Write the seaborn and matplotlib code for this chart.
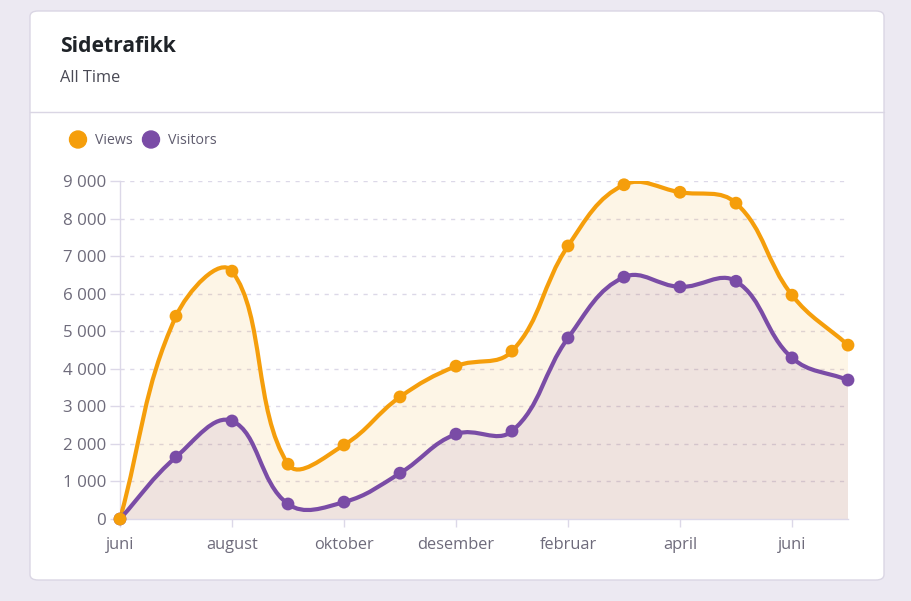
import numpy as np
import pandas as pd
import seaborn as sns
import matplotlib
matplotlib.use("Agg")
import matplotlib.pyplot as plt
from matplotlib.path import Path
from matplotlib.patches import PathPatch, FancyBboxPatch, Ellipse

months = ["juni", "juli", "august", "september", "oktober", "november", "desember",
          "januar", "februar", "mars", "april", "mai", "juni", "juli"]
views = [0, 5400, 6600, 1460, 1970, 3250, 4070, 4470, 7270, 8900, 8700, 8410, 5960, 4630]
visitors = [0, 1650, 2610, 400, 450, 1220, 2260, 2340, 4820, 6440, 6180, 6330, 4290, 3700]
tick_labels = ["juni", "august", "oktober", "desember", "februar", "april", "juni"]
y_ticks = [0, 1000, 2000, 3000, 4000, 5000, 6000, 7000, 8000, 9000]

ORANGE = "#F59E0B"
PURPLE = "#7A4CA6"
TEXT = "#6E6B7B"
GRID = "#DCD8E8"

sns.set_theme(style="white")
plt.rcParams["font.family"] = ["Open Sans", "DejaVu Sans"]

W, H = 912, 601
fig = plt.figure(figsize=(W / 100, H / 100), dpi=100, facecolor="#ECE9F2")

# card
card = FancyBboxPatch((30 / W, 21 / H), 854 / W, 569 / H,
                      boxstyle="round,pad=0,rounding_size=0.009",
                      transform=fig.transFigure, facecolor="white",
                      edgecolor="#DAD6E4", linewidth=1.0, zorder=-10)
fig.patches.append(card)
fig.add_artist(plt.Line2D([30 / W, 884 / W], [1 - 112 / H, 1 - 112 / H],
                          transform=fig.transFigure, color="#DAD6E4", lw=1.0, zorder=-5))

fig.text(60 / W, 1 - 46.5 / H, "Sidetrafikk", fontsize=15.2, fontweight="bold",
         color="#1F2328", va="center", ha="left")
fig.text(60 / W, 1 - 78.5 / H, "All Time", fontsize=11.8, color="#4A4A55",
         va="center", ha="left")

# legend
for cx, col, lab in [(78, ORANGE, "Views"), (151, PURPLE, "Visitors")]:
    fig.add_artist(Ellipse((cx / W, 1 - 139.5 / H), 17 / W, 17 / H,
                           transform=fig.transFigure, color=col))
    fig.text((cx + 17) / W, 1 - 140.5 / H, lab, fontsize=10.2, color="#5F5C6E",
             va="center", ha="left")

left, right, top, bottom = 120, 848, 181, 519
ax = fig.add_axes([left / W, 1 - bottom / H, (right - left) / W, (bottom - top) / H])
ax.set_zorder(5)
ax.set_facecolor("none")
ax.set_xlim(0, len(months) - 1)
ax.set_ylim(0, 9000)

x = np.arange(len(months))
df = pd.DataFrame({"idx": np.concatenate([x, x]),
                   "value": visitors + views,
                   "series": ["Visitors"] * len(x) + ["Views"] * len(x)})

px_x = (right - left) / (len(months) - 1)
px_y = (bottom - top) / 9000.0


def spline_path(xs, ys, tension=0.4):
    pts = np.column_stack([np.asarray(xs, float) * px_x, np.asarray(ys, float) * px_y])
    n = len(pts)
    cps = []
    for i in range(n):
        p1 = pts[i]
        p0 = pts[i - 1] if i > 0 else p1
        p2 = pts[i + 1] if i < n - 1 else p1
        d01 = np.hypot(*(p1 - p0))
        d12 = np.hypot(*(p2 - p1))
        tot = d01 + d12
        s01 = d01 / tot if tot else 0
        s12 = d12 / tot if tot else 0
        prev = p1 - tension * s01 * (p2 - p0)
        nxt = p1 + tension * s12 * (p2 - p0)
        cps.append((prev, nxt))
    verts = [pts[0]]
    codes = [Path.MOVETO]
    for i in range(n - 1):
        verts += [cps[i][1], cps[i + 1][0], pts[i + 1]]
        codes += [Path.CURVE4] * 3
    verts = np.array(verts)
    verts[:, 0] /= px_x
    verts[:, 1] /= px_y
    return verts, codes


for name, col in [("Views", ORANGE), ("Visitors", PURPLE)]:
    sub = df[df.series == name]
    verts, codes = spline_path(sub.idx.values, sub.value.values)
    fv = np.vstack([verts, [[verts[-1, 0], 0], [verts[0, 0], 0], verts[0]]])
    fc = codes + [Path.LINETO, Path.LINETO, Path.CLOSEPOLY]
    ax.add_patch(PathPatch(Path(fv, fc), facecolor=col, alpha=0.1, edgecolor="none", zorder=1))
    ax.add_patch(PathPatch(Path(verts, codes), facecolor="none", edgecolor=col, lw=3.0,
                           zorder=3, capstyle="round", joinstyle="round"))

sns.scatterplot(data=df, x="idx", y="value", hue="series", palette=[PURPLE, ORANGE],
                hue_order=["Visitors", "Views"], s=85, edgecolor="none",
                ax=ax, legend=False, zorder=4, clip_on=False)

ax.set_yticks(y_ticks)
ax.set_yticklabels([f"{v:,}".replace(",", " ") for v in y_ticks])
ax.set_xticks(range(0, len(months), 2))
ax.set_xticklabels(tick_labels)
ax.set_xlabel("")
ax.set_ylabel("")
for v in y_ticks[1:]:
    ax.axhline(v, color=GRID, lw=1.0, ls=(0, (3, 4)), zorder=0.5)
for s in ["top", "right"]:
    ax.spines[s].set_visible(False)
for s in ["left", "bottom"]:
    ax.spines[s].set_color(GRID)
    ax.spines[s].set_linewidth(1.0)
ax.spines["bottom"].set_zorder(2)
ax.tick_params(axis="y", colors=GRID, labelcolor=TEXT, labelsize=12.2, length=7,
               width=1, pad=3, left=True)
ax.tick_params(axis="x", colors=GRID, labelcolor=TEXT, labelsize=11.8, length=6,
               width=1, pad=7, bottom=True)

fig.savefig("out.png", dpi=100, facecolor=fig.get_facecolor())
